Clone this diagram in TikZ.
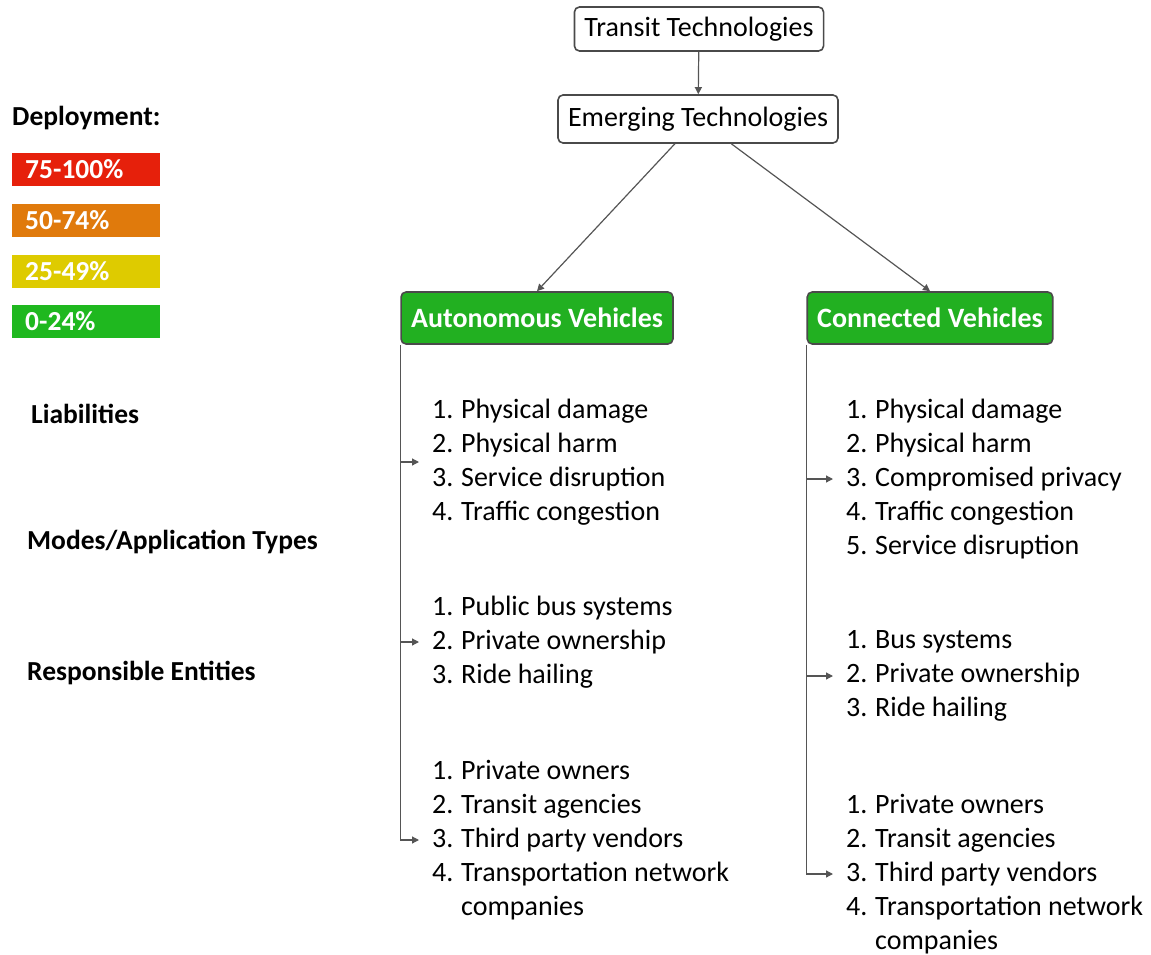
\documentclass[tikz,border=0pt]{standalone}
\usepackage{fontspec}
\setmainfont{Carlito}
\usetikzlibrary{positioning,arrows.meta}

\definecolor{boxgray}{HTML}{4A4A4A}
\definecolor{linegray}{HTML}{555555}
\definecolor{headgreen}{HTML}{22B021}
\definecolor{legred}{HTML}{E6200B}
\definecolor{legorange}{HTML}{E07A0C}
\definecolor{legyellow}{HTML}{DECB00}
\definecolor{leggreen}{HTML}{1FB81F}

\newcommand{\itm}[2]{\makebox[29pt][l]{#1}#2}

\tikzset{
  txt/.style={font={\fontsize{28}{34}\selectfont}},
  box/.style={txt, draw=boxgray, line width=1.6pt, rounded corners=5pt, fill=white,
    inner xsep=10pt, minimum height=44pt},
  head/.style={draw=boxgray, line width=1.6pt, rounded corners=5pt, fill=headgreen,
    text=white, font={\fontsize{28}{34}\selectfont\bfseries}, inner xsep=10pt, minimum height=52pt},
  legend/.style={fill=#1, anchor=west, minimum height=33pt, text width=122pt, inner xsep=13pt,
    align=left, text=white, font={\fontsize{27.5}{30}\selectfont\bfseries}},
  lbl/.style={anchor=west, inner sep=0pt, font={\fontsize{27.5}{30}\selectfont\bfseries}},
  items/.style={txt, anchor=west, align=left, inner xsep=13pt, inner ysep=0pt},
  link/.style={draw=linegray, line width=1.2pt, -{Triangle[length=7pt,width=7pt]}},
}

\begin{document}
\begin{tikzpicture}[x=1pt,y=-1pt]
  \useasboundingbox (0,0) rectangle (1151,955);

  % legend
  \node[lbl] (DEP) at (12, 118) {Deployment:};
  \node[legend=legred] (L1) at (12, 169.5) {75-100\%};
  \node[legend=legorange] (L2) at (12, 220) {50-74\%};
  \node[legend=legyellow] (L3) at (12, 271) {25-49\%};
  \node[legend=leggreen] (L4) at (12, 321.5) {0-24\%};

  % row labels
  \node[lbl] (LIA) at (31, 414) {Liabilities};
  \node[lbl] (MOD) at (27, 542) {Modes/Application Types};
  \node[lbl] (ENT) at (27, 673) {Responsible Entities};

  % tree
  \node[box] (TT) at (699, 29) {Transit Technologies};
  \node[box, minimum height=48pt] (ET) at (698, 119) {Emerging Technologies};
  \node[head] (AV) at (537, 318) {Autonomous Vehicles};
  \node[head] (CV) at (930, 318) {Connected Vehicles};

  \draw[link] (TT) -- (ET);
  \draw[link] (ET) -- (AV.north);
  \draw[link] (ET) -- (CV.north);

  % autonomous vehicles
  \node[items] (AVL) at (419, 462) {\itm{1.}{Physical damage}\\ \itm{2.}{Physical harm}\\
    \itm{3.}{Service disruption}\\ \itm{4.}{Traffic congestion}};
  \node[items] (AVM) at (419, 642) {\itm{1.}{Public bus systems}\\ \itm{2.}{Private ownership}\\
    \itm{3.}{Ride hailing}};
  \node[items] (AVE) at (419, 840) {\itm{1.}{Private owners}\\ \itm{2.}{Transit agencies}\\
    \itm{3.}{Third party vendors}\\ \itm{4.}{Transportation network}\\ \itm{}{companies}};

  \draw[link] (AV.south west) |- (AVE.west);
  \draw[link] (AV.south west |- AVL.west) -- (AVL.west);
  \draw[link] (AV.south west |- AVM.west) -- (AVM.west);

  % connected vehicles
  \node[items] (CVL) at (833, 479) {\itm{1.}{Physical damage}\\ \itm{2.}{Physical harm}\\
    \itm{3.}{Compromised privacy}\\ \itm{4.}{Traffic congestion}\\ \itm{5.}{Service disruption}};
  \node[items] (CVM) at (833, 676) {\itm{1.}{Bus systems}\\ \itm{2.}{Private ownership}\\
    \itm{3.}{Ride hailing}};
  \node[items] (CVE) at (833, 874) {\itm{1.}{Private owners}\\ \itm{2.}{Transit agencies}\\
    \itm{3.}{Third party vendors}\\ \itm{4.}{Transportation network}\\ \itm{}{companies}};

  \draw[link] (CV.south west) |- (CVE.west);
  \draw[link] (CV.south west |- CVL.west) -- (CVL.west);
  \draw[link] (CV.south west |- CVM.west) -- (CVM.west);
\end{tikzpicture}
\end{document}
